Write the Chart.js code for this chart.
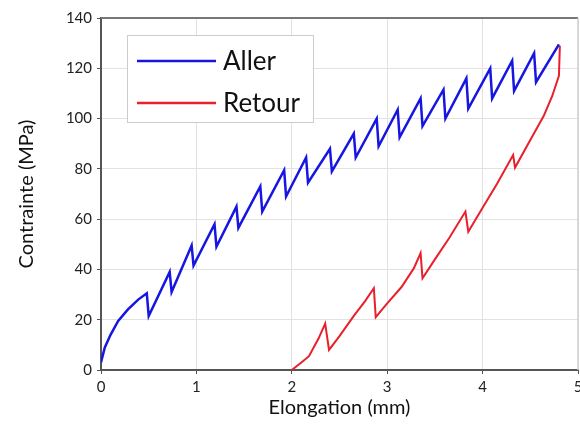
<!DOCTYPE html>
<html>
<head>
<meta charset="utf-8">
<script src="https://cdn.jsdelivr.net/npm/chart.js@4/dist/chart.umd.min.js"></script>
<style>
  html,body{margin:0;padding:0;background:#fff;overflow:hidden;width:580px;height:443px}
  #wrap{position:relative;width:590px;height:443px}
</style>
</head>
<body>
<div id="wrap"><canvas id="c"></canvas></div>
<script>
// Aller (loading) — sawtooth
const allerX = [0, 0.04, 0.10, 0.18, 0.28, 0.39, 0.48,
  0.50, 0.72, 0.74, 0.95, 0.97, 1.19, 1.21, 1.42, 1.44, 1.67, 1.69, 1.92,
  1.94, 2.15, 2.17, 2.40, 2.42, 2.65, 2.67, 2.89, 2.91, 3.11, 3.13, 3.35,
  3.37, 3.59, 3.61, 3.83, 3.85, 4.08, 4.10, 4.31, 4.33, 4.54, 4.56, 4.80];
const allerY = [3, 9, 14, 19.5, 24, 28, 30.5,
  21.5, 39, 31, 49.5, 41.5, 58, 49, 65, 56.5, 73, 63, 79.5,
  69, 84.5, 74.5, 88, 79, 94, 84.5, 100, 89, 103.5, 92.5, 108,
  97, 111.5, 100, 116, 104, 120, 108, 123, 111, 126, 114.5, 129.5];

// Retour (unloading)
const retourX = [2.00, 2.10, 2.18, 2.28, 2.35, 2.39, 2.50, 2.65, 2.77, 2.86,
  2.88, 3.00, 3.15, 3.28, 3.35, 3.37, 3.50, 3.65, 3.82, 3.85, 4.00, 4.15, 4.32,
  4.34, 4.50, 4.64, 4.73, 4.80, 4.81];
const retourY = [0, 3, 5.5, 12.5, 18.5, 8, 13.5, 21.5, 27.5, 32.5,
  21, 26.5, 33, 40.5, 46.5, 36.5, 44, 52.5, 63, 55, 64.5, 74, 85.5,
  80.5, 91.5, 101, 109, 117, 129];

const xTicks = [0, 1, 2, 3, 4, 5];
const yTicks = [0, 20, 40, 60, 80, 100, 120, 140];

const BLUE = '#1616e0', RED = '#e8202c', AXIS = '#555', GRID = '#e2e2e2';
const FONT = 'Lato, "Open Sans", sans-serif';

const pts = (xs, ys) => xs.map((x, i) => ({x, y: ys[i]}));

// legend box + frame drawn inside the plot area
const boxPlugin = {
  id: 'boxLegend',
  afterDraw(chart) {
    const {ctx, chartArea: a} = chart;
    ctx.save();
    // frame top/right
    ctx.strokeStyle = '#777'; ctx.lineWidth = 2;
    ctx.beginPath(); ctx.moveTo(a.left, a.top); ctx.lineTo(a.right, a.top); ctx.stroke();
    ctx.strokeStyle = '#cfcfcf'; ctx.lineWidth = 1.5;
    ctx.beginPath(); ctx.moveTo(a.right, a.top); ctx.lineTo(a.right, a.bottom); ctx.stroke();
    // legend
    const L = a.left + 26, T = a.top + 17, W = 186, H = 87;
    ctx.fillStyle = '#fff'; ctx.fillRect(L, T, W, H);
    ctx.strokeStyle = '#cccccc'; ctx.lineWidth = 1; ctx.strokeRect(L + .5, T + .5, W, H);
    ctx.font = '26px ' + FONT; ctx.textBaseline = 'middle'; ctx.textAlign = 'left';
    chart.data.datasets.forEach((ds, i) => {
      const y = T + 26 + i * 42;
      ctx.strokeStyle = ds.borderColor; ctx.lineWidth = 2.5;
      ctx.beginPath(); ctx.moveTo(L + 10, y); ctx.lineTo(L + 89, y); ctx.stroke();
      ctx.fillStyle = '#111'; ctx.fillText(ds.label, L + 96, y + 1);
    });
    ctx.restore();
  }
};

new Chart(document.getElementById('c'), {
  type: 'scatter',
  data: {datasets: [
    {label: 'Aller', data: pts(allerX, allerY), borderColor: BLUE, backgroundColor: BLUE,
     showLine: true, borderWidth: 2.5, pointRadius: 0, tension: 0},
    {label: 'Retour', data: pts(retourX, retourY), borderColor: RED, backgroundColor: RED,
     showLine: true, borderWidth: 2, pointRadius: 0, tension: 0}
  ]},
  options: {
    responsive: true, maintainAspectRatio: false, animation: false,
    layout: {padding: {top: 18, right: 12, left: 11, bottom: 19}},
    plugins: {legend: {display: false}, tooltip: {enabled: false}},
    scales: {
      x: {
        type: 'linear', min: 0, max: 5,
        afterFit: s => { s.height = 54; },
        afterBuildTicks: s => { s.ticks = xTicks.map(v => ({value: v})); },
        grid: {color: GRID, tickColor: AXIS, tickLength: 4, lineWidth: 1},
        border: {color: AXIS, width: 2},
        ticks: {color: '#222', font: {family: FONT, size: 15}, padding: 4},
        title: {display: true, text: 'Elongation (mm)', color: '#111',
                font: {family: FONT, size: 20}, padding: {top: 6}}
      },
      y: {
        type: 'linear', min: 0, max: 140,
        afterFit: s => { s.width = 90; },
        afterBuildTicks: s => { s.ticks = yTicks.map(v => ({value: v})); },
        grid: {color: GRID, tickColor: AXIS, tickLength: 4, lineWidth: 1},
        border: {color: AXIS, width: 2},
        ticks: {color: '#222', font: {family: FONT, size: 15}, padding: 5},
        title: {display: true, text: 'Contrainte (MPa)', color: '#111',
                font: {family: FONT, size: 20}, padding: {bottom: 0}}
      }
    }
  },
  plugins: [boxPlugin]
});
</script>
</body>
</html>
